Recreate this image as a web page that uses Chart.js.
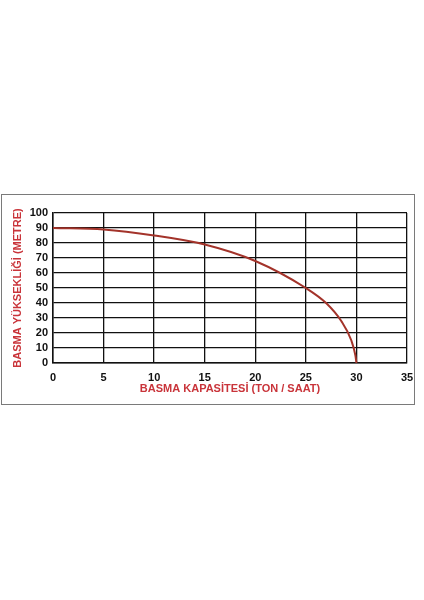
<!DOCTYPE html>
<html>
<head>
<meta charset="utf-8">
<script src="https://cdn.jsdelivr.net/npm/chart.js@4"></script>
<style>
  html, body { margin: 0; padding: 0; background: #fff; }
  body { width: 424px; height: 600px; position: relative; overflow: hidden; }
  #kutu {
    position: absolute; left: 1px; top: 194px;
    width: 412px; height: 209px;
    border: 1px solid #7a7a7a;
  }
  #grafik { display: block; }
</style>
</head>
<body>
<div id="kutu"><canvas id="grafik" width="412" height="209"></canvas></div>
<script>
// kapasite (ton/saat) ve basma yüksekliği (metre)
const kapasite = [0, 5, 10, 15, 20, 25, 27, 28.5, 29.5, 29.9, 30];
const yukseklik = [90, 89, 85, 79, 68, 50, 40, 28, 15, 5, 0];
const xTicks = [0, 5, 10, 15, 20, 25, 30, 35];
const yTicks = [0, 10, 20, 30, 40, 50, 60, 70, 80, 90, 100];

const xBaslik = "BASMA KAPASİTESİ (TON / SAAT)";
const yBaslik = "BASMA YÜKSEKLİĞİ (METRE)";

const kirmizi = "#c9343a";
const egri = "#a3332a";
const yazi = "'Liberation Sans', Arial, sans-serif";

const ctx = document.getElementById("grafik").getContext("2d");

const chart = new Chart(ctx, {
    type: "line",
    data: {
        datasets: [{
            data: kapasite.map((x, i) => ({ x: x, y: yukseklik[i] })),
            borderColor: egri,
            borderWidth: 2,
            pointRadius: 0,
            fill: false,
            cubicInterpolationMode: "monotone"
        }]
    },
    options: {
        responsive: false,
        animation: false,
        layout: { padding: { left: 0, right: 0, top: 18, bottom: 0 } },
        plugins: { legend: { display: false }, tooltip: { enabled: false } },
        scales: {
            x: {
                type: "linear",
                min: 0, max: 35,
                afterBuildTicks: (s) => { s.ticks = xTicks.map(v => ({ value: v })); },
                afterFit: (s) => { s.height = 41; s.paddingRight = 7; },
                grid: { color: "#111", lineWidth: 1.3, drawTicks: false },
                border: { color: "#111", width: 1.5 },
                ticks: { color: "#111", padding: 8, autoSkip: false, maxRotation: 0,
                         font: { family: yazi, size: 11, weight: "bold" } },
                title: {
                    display: true, text: xBaslik, color: kirmizi,
                    padding: { top: 0, bottom: 8 },
                    font: { family: yazi, size: 11, weight: "bold" }
                }
            },
            y: {
                min: 0, max: 100,
                afterBuildTicks: (s) => { s.ticks = yTicks.map(v => ({ value: v })); },
                afterFit: (s) => { s.width = 51; },
                grid: { color: "#111", lineWidth: 1.3, drawTicks: false },
                border: { color: "#111", width: 1.5 },
                ticks: { color: "#111", padding: 5, autoSkip: false,
                         font: { family: yazi, size: 11, weight: "bold" } },
                title: {
                    display: true, text: yBaslik, color: kirmizi,
                    padding: { top: 9, bottom: 0 },
                    font: { family: yazi, size: 11, weight: "bold" }
                }
            }
        }
    }
});
</script>
</body>
</html>
